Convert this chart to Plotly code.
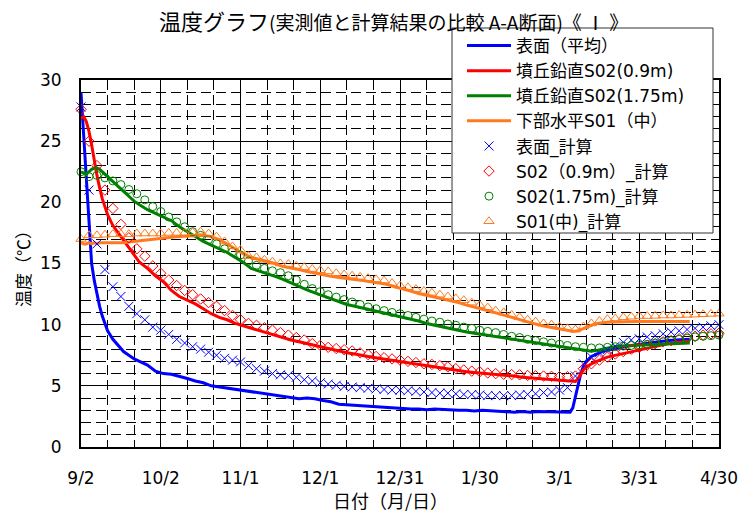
import datetime as dt
import plotly.graph_objects as go

# ---------------- data ----------------
start_date = "2010-09-02"

meas_days = [0, 1, 2, 3, 4, 5, 6, 7, 8, 10, 12, 14, 16, 18, 20, 22, 25, 28, 31, 34, 37, 40, 43, 46,
             49, 52, 55, 58, 61, 64, 67, 70, 73, 76, 79, 82, 85, 88, 91, 94, 97, 100, 103, 106,
             109, 112, 115, 118, 121, 124, 127, 130, 133, 136, 139, 142, 145, 148, 151, 154, 157,
             160, 163, 166, 169, 172, 175, 178, 181, 184, 185, 186, 187, 188, 189, 190, 192, 194,
             196, 198, 200, 203, 206, 209, 212, 215, 218, 221, 224, 227, 229]

surface_meas = [29.0, 25.5, 22.0, 18.3, 15.0, 13.6, 12.5, 11.5, 10.7, 9.5, 8.8, 8.3, 7.8, 7.5, 7.2,
                7.0, 6.7, 6.2, 6.0, 5.95, 5.8, 5.6, 5.4, 5.25, 5.0, 4.9, 4.8, 4.7, 4.65, 4.5, 4.4,
                4.3, 4.25, 4.1, 4.0, 3.95, 4.0, 3.95, 3.8, 3.7, 3.5, 3.45, 3.4, 3.35, 3.3, 3.25,
                3.2, 3.2, 3.15, 3.1, 3.1, 3.05, 3.1, 3.05, 3.05, 3.0, 3.0, 2.95, 3.0, 2.95, 2.9,
                2.85, 2.85, 2.9, 2.85, 2.9, 2.9, 2.85, 2.9, 2.85, 3.2, 4.2, 5.2, 6.0, 6.6, 7.0,
                7.4, 7.6, 7.8, 7.9, 8.0, 8.1, 8.25, 8.35, 8.45, 8.55, 8.65, 8.7, 8.75, 8.8, 8.8]

s02_09_meas = [26.9, 27.0, 26.6, 25.8, 24.7, 23.4, 22.2, 21.2, 20.3, 19.0, 18.1, 17.5, 16.9, 16.3,
               15.6, 15.1, 14.6, 14.0, 13.5, 12.8, 12.3, 12.0, 11.7, 11.3, 10.9, 10.6, 10.4, 10.1,
               9.9, 9.7, 9.5, 9.3, 9.1, 8.9, 8.75, 8.6, 8.45, 8.25, 8.1, 7.95, 7.8, 7.7, 7.6,
               7.45, 7.35, 7.25, 7.15, 7.05, 6.95, 6.85, 6.75, 6.6, 6.5, 6.4, 6.3, 6.2, 6.15, 6.1,
               6.05, 6.0, 5.95, 5.9, 5.8, 5.7, 5.65, 5.6, 5.55, 5.5, 5.45, 5.4, 5.35, 5.35, 5.6,
               6.0, 6.3, 6.5, 6.8, 7.0, 7.2, 7.35, 7.45, 7.6, 7.75, 7.9, 8.0, 8.15, 8.3, 8.45,
               8.55, 8.6, 8.65]

s02_175_meas = [22.5, 22.4, 22.3, 22.5, 22.7, 22.8, 22.8, 22.7, 22.5, 22.1, 21.7, 21.3, 20.9, 20.5,
                20.1, 19.8, 19.4, 19.1, 18.8, 18.5, 18.0, 17.6, 17.2, 16.8, 16.5, 16.2, 15.9,
                15.5, 15.1, 14.6, 14.4, 14.2, 13.95, 13.7, 13.4, 13.1, 12.85, 12.6, 12.35, 12.1,
                11.9, 11.65, 11.5, 11.35, 11.2, 11.1, 10.95, 10.75, 10.6, 10.45, 10.3, 10.1, 9.95,
                9.8, 9.7, 9.55, 9.4, 9.3, 9.2, 9.1, 8.97, 8.85, 8.75, 8.65, 8.55, 8.45, 8.38, 8.3,
                8.2, 8.1, 8.05, 8.0, 7.95, 7.92, 7.9, 7.85, 7.82, 7.9, 8.0, 8.1, 8.18, 8.25, 8.28,
                8.3, 8.33, 8.37, 8.4, 8.45, 8.48, 8.5, 8.5]

s01_meas = [16.7, 16.6, 16.6, 16.7, 16.6, 16.7, 16.6, 16.7, 16.7, 16.7, 16.65, 16.7, 16.7, 16.75,
            16.8, 16.85, 16.95, 17.05, 17.1, 17.15, 17.2, 17.25, 17.3, 17.3, 17.2, 16.95, 16.6,
            16.2, 15.8, 15.5, 15.35, 15.15, 15.0, 14.75, 14.65, 14.5, 14.35, 14.2, 14.05, 13.95,
            13.85, 13.8, 13.7, 13.6, 13.5, 13.45, 13.3, 13.1, 12.95, 12.75, 12.55, 12.4, 12.25,
            12.1, 12.0, 11.8, 11.6, 11.45, 11.3, 11.1, 10.9, 10.75, 10.55, 10.35, 10.15, 10.0,
            9.85, 9.75, 9.6, 9.5, 9.45, 9.45, 9.5, 9.6, 9.7, 9.8, 9.95, 10.1, 10.18, 10.2, 10.22,
            10.25, 10.25, 10.25, 10.25, 10.25, 10.25, 10.25, 10.25, 10.25, 10.25]

calc_days = [0, 3, 6, 9, 12, 15, 18, 21, 24, 27, 30, 33, 36, 39, 42, 45, 48, 51, 54, 57, 60, 63,
             66, 69, 72, 75, 78, 81, 84, 87, 90, 93, 96, 99, 102, 105, 108, 111, 114, 117, 120,
             123, 126, 129, 132, 135, 138, 141, 144, 147, 150, 153, 156, 159, 162, 165, 168, 171,
             174, 177, 180, 183, 186, 189, 192, 195, 198, 201, 204, 207, 210, 213, 216, 219, 222,
             225, 228, 231, 234, 237, 240]

surface_calc = [27.8, 21.0, 16.6, 14.5, 13.1, 12.3, 11.5, 10.9, 10.4, 9.8, 9.55, 9.2, 8.8, 8.5,
                8.2, 8.0, 7.75, 7.5, 7.25, 7.1, 6.95, 6.65, 6.4, 6.2, 6.0, 5.9, 5.85, 5.7, 5.5,
                5.4, 5.25, 5.15, 5.05, 4.95, 4.9, 4.85, 4.8, 4.75, 4.7, 4.65, 4.65, 4.6, 4.55,
                4.5, 4.45, 4.4, 4.4, 4.35, 4.3, 4.3, 4.25, 4.2, 4.2, 4.2, 4.2, 4.25, 4.3, 4.35,
                4.45, 4.5, 4.65, 4.85, 5.8, 6.8, 7.35, 7.7, 7.95, 8.25, 8.55, 8.75, 8.85, 9.0,
                9.1, 9.25, 9.4, 9.5, 9.6, 9.7, 9.8, 9.9, 10.0]

s02_09_calc = [27.6, 25.0, 23.0, 21.0, 19.5, 18.2, 17.1, 16.2, 15.6, 14.8, 14.2, 13.65, 13.2,
               12.8, 12.45, 12.1, 11.8, 11.5, 11.15, 10.75, 10.4, 10.1, 9.95, 9.75, 9.55, 9.35,
               9.15, 8.95, 8.75, 8.45, 8.3, 8.15, 8.05, 7.95, 7.85, 7.7, 7.55, 7.4, 7.3, 7.2,
               7.1, 7.0, 6.9, 6.8, 6.75, 6.65, 6.55, 6.4, 6.3, 6.2, 6.15, 6.05, 6.0, 5.95, 5.92,
               5.9, 5.85, 5.82, 5.8, 5.78, 5.75, 5.75, 5.8, 6.4, 6.8, 7.1, 7.35, 7.6, 7.8, 8.0,
               8.15, 8.3, 8.45, 8.6, 8.7, 8.85, 8.95, 9.05, 9.15, 9.25, 9.3]

s02_175_calc = [22.5, 22.1, 22.2, 22.0, 21.75, 21.45, 21.05, 20.7, 20.2, 19.65, 19.25, 18.8,
                18.4, 18.0, 17.6, 17.3, 16.95, 16.6, 16.2, 15.95, 15.7, 15.2, 14.85, 14.6, 14.4,
                14.25, 14.0, 13.65, 13.3, 12.95, 12.7, 12.45, 12.25, 12.05, 11.85, 11.65, 11.45,
                11.3, 11.15, 11.0, 10.9, 10.75, 10.6, 10.45, 10.3, 10.2, 10.05, 9.95, 9.8, 9.7,
                9.55, 9.45, 9.35, 9.2, 9.05, 8.95, 8.8, 8.7, 8.6, 8.5, 8.4, 8.3, 8.2, 8.15, 8.1,
                8.1, 8.15, 8.2, 8.25, 8.3, 8.35, 8.4, 8.5, 8.6, 8.7, 8.8, 8.9, 9.0, 9.05, 9.1,
                9.15]

s01_calc = [17.0, 17.3, 17.3, 17.35, 17.4, 17.4, 17.4, 17.45, 17.45, 17.45, 17.45, 17.5, 17.5,
            17.5, 17.55, 17.6, 17.45, 17.2, 16.8, 16.4, 16.1, 15.6, 15.5, 15.3, 15.15, 15.0,
            14.95, 14.8, 14.7, 14.55, 14.45, 14.35, 14.2, 14.1, 14.0, 13.9, 13.8, 13.7, 13.6,
            13.4, 13.2, 13.05, 12.9, 12.75, 12.6, 12.45, 12.3, 12.15, 12.0, 11.8, 11.6, 11.4,
            11.15, 11.0, 10.8, 10.6, 10.4, 10.25, 10.1, 10.0, 9.85, 9.7, 9.6, 9.85, 10.1, 10.3,
            10.45, 10.5, 10.6, 10.65, 10.7, 10.7, 10.72, 10.75, 10.75, 10.78, 10.8, 10.82,
            10.85, 10.88, 10.9]

x_range = ["2010-09-02", "2011-04-30"]

line_names = ["表面（平均）", "墳丘鉛直S02(0.9m)", "墳丘鉛直S02(1.75m)", "下部水平S01（中）"]
calc_names = ["表面_計算", "S02（0.9m）_計算", "S02(1.75m)_計算", "S01(中)_計算"]

colors = ["#0000FF", "#FF0000", "#008000", "#FF7A1F"]
symbols = ["x-thin-open", "diamond-open", "circle-open", "triangle-up-open"]
sizes = [9, 8, 8, 9]

# ---------------- figure ----------------
t0 = dt.date.fromisoformat(start_date)


def to_dates(days):
    return [(t0 + dt.timedelta(days=d)).isoformat() for d in days]


meas_x = to_dates(meas_days)
calc_x = to_dates(calc_days)

fig = go.Figure()
for name, ys, c in zip(line_names, [surface_meas, s02_09_meas, s02_175_meas, s01_meas], colors):
    fig.add_trace(go.Scatter(x=meas_x, y=ys, mode="lines", name=name,
                             line=dict(color=c, width=3)))
for name, ys, c, s, sz in zip(calc_names, [surface_calc, s02_09_calc, s02_175_calc, s01_calc],
                              colors, symbols, sizes):
    fig.add_trace(go.Scatter(x=calc_x, y=ys, mode="markers", name=name, cliponaxis=False,
                             marker=dict(symbol=s, size=sz, color=c,
                                         line=dict(color=c, width=1))))

# page coordinates (browser body has an 8px margin)
OFF = 8
L, R, T, B = 81, 719, 80, 447
W, H = 755 - OFF, 517 - OFF
pw, ph = R - L, B - T


def px(x):
    return (x - L) / pw


def py(y):
    return (B - y) / ph


font_main = "DejaVu Sans, Noto Sans CJK JP, sans-serif"
font_jp = "Noto Sans CJK JP, sans-serif"

fig.update_layout(
    width=W, height=H,
    margin=dict(l=L - OFF, r=W - (R - OFF), t=T - OFF, b=H - (B - OFF), pad=0),
    paper_bgcolor="white", plot_bgcolor="white",
    font=dict(family=font_main, color="black", size=17),
    showlegend=True,
    legend=dict(x=px(462), y=py(28), xanchor="left", yanchor="top",
                bgcolor="rgba(0,0,0,0)", borderwidth=0,
                font=dict(family=font_main, size=17, color="black"),
                itemwidth=44, traceorder="normal"),
    shapes=[dict(type="rect", xref="paper", yref="paper",
                 x0=px(452), x1=px(713), y0=py(233), y1=py(28),
                 fillcolor="white", line=dict(color="#333333", width=1), layer="above")],
    annotations=[
        dict(xref="paper", yref="paper", x=px(393), y=py(20), xanchor="center", yanchor="middle",
             showarrow=False,
             text="<span style='font-size:22px'>温度グラフ</span>"
                  "<span style='font-size:19px'>(実測値と計算結果の比較 A-A断面)《 Ⅰ 》</span>",
             font=dict(family=font_jp, color="black")),
        dict(xref="paper", yref="paper", x=px(22), y=py(265), xanchor="center",
             yanchor="middle", showarrow=False, textangle=-90, text="温度（℃）",
             font=dict(family=font_jp, size=17, color="black")),
        dict(xref="paper", yref="paper", x=px(390), y=py(500), xanchor="center",
             yanchor="middle", showarrow=False, text="日付（月/日）",
             font=dict(family=font_jp, size=18, color="black")),
    ],
)

fig.update_xaxes(
    type="date", range=x_range, tick0=start_date, dtick=30 * 86400000, tickformat="%-m/%-d",
    showgrid=True, gridcolor="black", gridwidth=1,
    showline=True, linecolor="black", linewidth=2, mirror=True,
    ticks="", ticklabelstandoff=15, tickfont=dict(family=font_main, size=17),
    minor=dict(tick0=start_date, dtick=10 * 86400000, showgrid=True, gridcolor="black",
               gridwidth=1, griddash="10px,5px", ticks=""),
    zeroline=False,
)
fig.update_yaxes(
    range=[0, 30], dtick=5, tick0=0,
    showgrid=True, gridcolor="black", gridwidth=1,
    showline=True, linecolor="black", linewidth=2, mirror=True,
    ticks="", ticklabelstandoff=14, tickfont=dict(family=font_main, size=17),
    minor=dict(dtick=1, showgrid=True, gridcolor="black", gridwidth=1,
               griddash="10px,5px", ticks=""),
    zeroline=False,
)

fig.write_html("out.html")
